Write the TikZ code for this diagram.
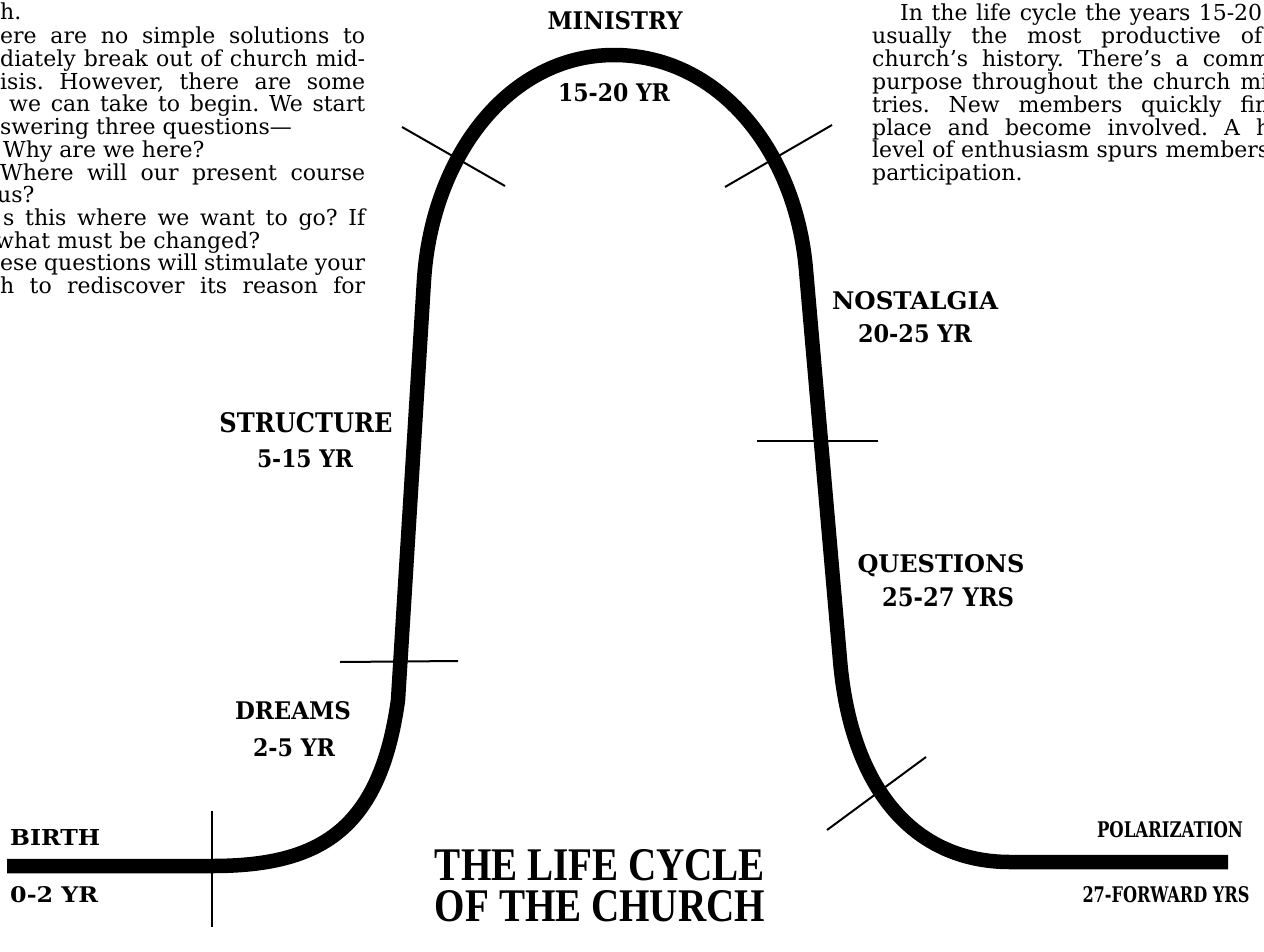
\documentclass[tikz,border=0pt]{standalone}
\usepackage{fontspec}
\usepackage{graphicx}
\setmainfont{DejaVu Serif}
\newfontfamily\titlefont{Liberation Serif}
\newcommand\jl[2]{\makebox[#1pt][s]{#2}}
\newcommand\rs[3]{\resizebox{#1pt}{#2pt}{#3}}
\tikzset{
  curve/.style={line width=14.5pt, line cap=butt, line join=round},
  tickline/.style={line width=2pt},
  lbl/.style={inner sep=0pt, font=\fontsize{25}{27}\selectfont\bfseries},
  body/.style={anchor=base west, inner sep=0pt, font=\fontsize{22}{22.7}\selectfont\frenchspacing},
  ttl/.style={inner sep=0pt, font=\titlefont\bfseries}
}
\begin{document}
\begin{tikzpicture}[x=1pt,y=-1pt]
\useasboundingbox (0,0) rectangle (1264,951);
\clip (0,0) rectangle (1264,951);
% main curve
\coordinate (p0) at (7,866);
\coordinate (p1) at (212,866);
\coordinate (p2) at (398,700);
\coordinate (p3) at (424,280);
\coordinate (apex) at (614,55);
\coordinate (p4) at (806,270);
\coordinate (p5) at (840,660);
\coordinate (p6) at (1010,862);
\coordinate (p7) at (1228,862);
\draw[curve] (p0) -- (p1) .. controls (320,866) and (380,830) .. (p2) -- (p3)
  .. controls (432,156) and (509,55) .. (apex)
  .. controls (719,55) and (796,151) .. (p4) -- (p5)
  .. controls (851,790) and (915,862) .. (p6) -- (p7);
% ticks
\coordinate (t1a) at (212,811); \coordinate (t1b) at (212,927);
\coordinate (t2a) at (340,662); \coordinate (t2b) at (458,661);
\coordinate (t3a) at (402,127); \coordinate (t3b) at (505,186);
\coordinate (t4a) at (725,187); \coordinate (t4b) at (832,125);
\coordinate (t5a) at (757,441); \coordinate (t5b) at (878,441);
\coordinate (t6a) at (827,830); \coordinate (t6b) at (926,757);
\draw[tickline] (t1a) -- (t1b);
\draw[tickline] (t2a) -- (t2b);
\draw[tickline] (t3a) -- (t3b);
\draw[tickline] (t4a) -- (t4b);
\draw[tickline] (t5a) -- (t5b);
\draw[tickline] (t6a) -- (t6b);
% stage labels
\node[lbl] (ministry) at (615,21) {\rs{135}{18}{MINISTRY}};
\node[lbl] (ministryyr) at (614,93) {\rs{112}{18}{15-20 YR}};
\node[lbl] (structure) at (306,423) {\rs{173}{20}{STRUCTURE}};
\node[lbl] (structureyr) at (305,459) {\rs{96}{18}{5-15 YR}};
\node[lbl] (dreams) at (293,711) {\rs{116}{18}{DREAMS}};
\node[lbl] (dreamsyr) at (294,748) {\rs{82}{18}{2-5 YR}};
\node[lbl, anchor=west] (birth) at (10,837) {\rs{90}{16}{BIRTH}};
\node[lbl, anchor=west] (birthyr) at (10,895) {\rs{88}{16}{0-2 YR}};
\node[lbl] (nostalgia) at (915,301) {\rs{166}{18}{NOSTALGIA}};
\node[lbl] (nostalgiayr) at (915,334) {\rs{114}{18}{20-25 YR}};
\node[lbl] (questions) at (941,566) {\rs{167}{18}{QUESTIONS}};
\node[lbl] (questionsyr) at (948,597) {\rs{132}{19}{25-27 YRS}};
\node[lbl] (polar) at (1170,830) {\rs{146}{16}{POLARIZATION}};
\node[lbl] (polaryr) at (1166,895) {\rs{167}{16}{27-FORWARD YRS}};
% title
\node[ttl] (title1) at (600,865) {\rs{330}{31}{THE LIFE CYCLE}};
\node[ttl] (title2) at (600,906) {\rs{330}{31}{OF THE CHURCH}};
% left column text
\node[body] (l1) at (0,19) {h.};
\node[body] (l2) at (0,43) {\jl{365}{ere are no simple solutions to}};
\node[body] (l3) at (0,66) {\jl{365}{diately break out of church mid-}};
\node[body] (l4) at (0,89) {\jl{365}{isis. However, there are some}};
\node[body] (l5) at (9,111) {\jl{356}{we can take to begin. We start}};
\node[body] (l6) at (0,134) {swering three questions\textemdash};
\node[body] (l7) at (3,157) {Why are we here?};
\node[body] (l8) at (0,180) {\jl{365}{Where will our present course}};
\node[body] (l9) at (-3,202) {us?};
\node[body] (l10) at (3,225) {\jl{362}{s this where we want to go? If}};
\node[body] (l11) at (-5,248) {what must be changed?};
\node[body] (l12) at (0,270) {\jl{365}{ese questions will stimulate your}};
\node[body] (l13) at (0,293) {\jl{365}{h to rediscover its reason for}};
% right column text
\node[body] (r1) at (900,20) {\jl{362}{In the life cycle the years 15-20}};
\node[body] (r2) at (872,43) {\jl{390}{usually the most productive of}};
\node[body] (r3) at (872,66) {\jl{398}{church's history. There's a comm}};
\node[body] (r4) at (872,89) {\jl{396}{purpose throughout the church mi}};
\node[body] (r5) at (872,112) {\jl{397}{tries. New members quickly fin}};
\node[body] (r6) at (872,135) {\jl{398}{place and become involved. A h}};
\node[body] (r7) at (872,157) {\jl{397}{level of enthusiasm spurs members}};
\node[body] (r8) at (872,180) {participation.};
\end{tikzpicture}
\end{document}
